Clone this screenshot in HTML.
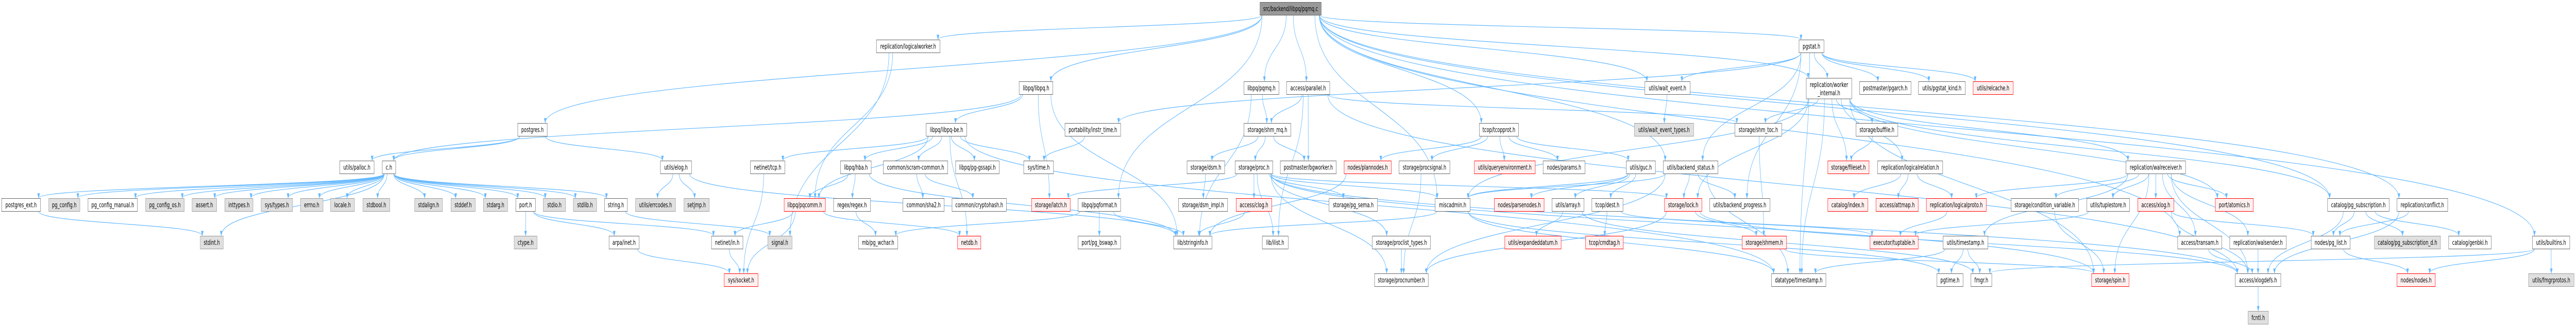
<!DOCTYPE html>
<html><head><meta charset="utf-8">
<meta name="viewport" content="width=7871">
<style>
html,body{margin:0;padding:0;background:#fff;width:100%;height:100%;overflow:hidden}
svg{display:block;position:absolute;left:0;top:0;width:100vw;height:100vh}
text{font-family:"DejaVu Sans","Liberation Sans",sans-serif;font-size:13px;fill:#000}
</style></head>
<body>
<svg id="g" viewBox="0 0 7871 637" preserveAspectRatio="none" xmlns="http://www.w3.org/2000/svg">
<defs><marker id="a" markerWidth="10" markerHeight="8" refX="9" refY="4" orient="auto" markerUnits="userSpaceOnUse"><path d="M0,0 L10,4 L0,8 z" fill="#63b8ff"/></marker></defs>
<g id="e"></g><g id="n"></g>
</svg>
<script>
var R={0:17,1:90,2:171,3:252,4:325,5:398,6:471,7:544,8:617};
var N=[
["src/backend/libpq/pqmq.c",3850,4037,0,"k"],
["replication/logicalworker.h",2678,2872,1,"w"],
["pgstat.h",5497,5573,1,"w"],
["libpq/libpq.h",3114,3217,2,"w"],
["libpq/pqmq.h",3801,3908,2,"w"],
["access/parallel.h",3931,4063,2,"w"],
["utils/wait_event.h",5026,5164,2,"w"],
["postmaster/pgarch.h",5682,5839,2,"w"],
["utils/pgstat_kind.h",5862,6005,2,"w"],
["utils/relcache.h",6029,6151,2,"r"],
["postgres.h",1582,1672,3,"w"],
["libpq/libpq-be.h",2830,2954,3,"w"],
["portability/instr_time.h",3254,3424,3,"w"],
["storage/shm_mq.h",3801,3944,3,"w"],
["tcop/tcopprot.h",4520,4640,3,"w"],
["utils/wait_event_types.h",4994,5175,3,"g"],
["storage/shm_toc.h",5301,5444,3,"w"],
["storage/buffile.h",5671,5799,3,"w"],
["utils/palloc.h",1038,1143,4,"w"],
["c.h",1168,1209,4,"w"],
["utils/elog.h",2018,2113,4,"w"],
["netinet/tcp.h",2293,2398,4,"w"],
["libpq/hba.h",2568,2662,4,"w"],
["common/scram-common.h",2699,2896,4,"w"],
["libpq/pg-gssapi.h",2920,3053,4,"w"],
["sys/time.h",3128,3219,4,"w"],
["storage/dsm.h",3627,3742,4,"w"],
["storage/proc.h",3774,3889,4,"w"],
["postmaster/bgworker.h",3912,4083,4,"w"],
["nodes/plannodes.h",4107,4251,4,"r"],
["storage/procsignal.h",4275,4430,4,"w"],
["utils/queryenvironment.h",4505,4691,4,"r"],
["nodes/params.h",4715,4843,4,"w"],
["utils/guc.h",4969,5058,4,"w"],
["utils/backend_status.h",5082,5249,4,"w"],
["storage/fileset.h",5585,5711,4,"r"],
["replication/logicalrelation.h",5737,5936,4,"w"],
["replication/walreceiver.h",6496,6678,4,"w"],
["postgres_ext.h",5,124,5,"w"],
["pg_config.h",149,244,5,"g"],
["pg_config_manual.h",269,420,5,"w"],
["pg_config_os.h",445,563,5,"g"],
["assert.h",587,662,5,"g"],
["inttypes.h",687,773,5,"g"],
["sys/types.h",798,894,5,"g"],
["errno.h",918,987,5,"g"],
["locale.h",1010,1083,5,"g"],
["stdbool.h",1109,1191,5,"g"],
["stdalign.h",1267,1352,5,"g"],
["stddef.h",1378,1452,5,"g"],
["stdarg.h",1477,1551,5,"g"],
["port.h",1576,1636,5,"w"],
["stdio.h",1660,1728,5,"g"],
["stdlib.h",1752,1823,5,"g"],
["string.h",1847,1917,5,"w"],
["utils/errcodes.h",1942,2064,5,"g"],
["setjmp.h",2090,2167,5,"g"],
["libpq/pqcomm.h",2396,2522,5,"r"],
["regex/regex.h",2547,2660,5,"w"],
["common/sha2.h",2759,2885,5,"w"],
["common/cryptohash.h",2909,3075,5,"w"],
["storage/latch.h",3152,3270,5,"r"],
["libpq/pqformat.h",3294,3424,5,"w"],
["storage/dsm_impl.h",3601,3751,5,"w"],
["access/clog.h",3777,3886,5,"r"],
["storage/pg_sema.h",4061,4209,5,"w"],
["miscadmin.h",4385,4492,5,"w"],
["nodes/parsenodes.h",4566,4718,5,"r"],
["utils/array.h",4742,4840,5,"w"],
["tcop/dest.h",4864,4959,5,"w"],
["storage/lock.h",5086,5200,5,"r"],
["utils/backend_progress.h",5224,5408,5,"w"],
["catalog/index.h",5585,5707,5,"r"],
["access/attmap.h",5732,5861,5,"r"],
["replication/logicalproto.h",5886,6069,5,"r"],
["storage/condition_variable.h",6145,6351,5,"w"],
["utils/tuplestore.h",6376,6507,5,"w"],
["access/xlog.h",6532,6642,5,"r"],
["port/atomics.h",6769,6885,5,"r"],
["catalog/pg_subscription.h",7112,7300,5,"w"],
["replication/conflict.h",7324,7479,5,"w"],
["stdint.h",612,682,6,"g"],
["ctype.h",1571,1641,6,"g"],
["arpa/inet.h",1861,1953,6,"w"],
["netinet/in.h",2174,2270,6,"w"],
["signal.h",2346,2420,6,"g"],
["mb/pg_wchar.h",2623,2743,6,"w"],
["netdb.h",2926,2997,6,"r"],
["port/pg_bswap.h",3294,3424,6,"w"],
["lib/stringinfo.h",3586,3703,6,"w"],
["lib/ilist.h",3857,3936,6,"w"],
["storage/proclist_types.h",4193,4371,6,"w"],
["utils/expandeddatum.h",4598,4770,6,"r"],
["tcop/cmdtag.h",4845,4960,6,"r"],
["storage/shmem.h",5323,5459,6,"r"],
["executor/tuptable.h",5714,5861,6,"r"],
["utils/timestamp.h",5937,6074,6,"w"],
["access/transam.h",6654,6789,6,"w"],
["replication/walsender.h",6813,6986,6,"w"],
["nodes/pg_list.h",7062,7181,6,"w"],
["catalog/pg_subscription_d.h",7255,7457,6,"g"],
["catalog/genbki.h",7482,7612,6,"w"],
["utils/builtins.h",7738,7852,6,"w"],
["sys/socket.h",2213,2316,7,"r"],
["storage/procnumber.h",4200,4364,7,"w"],
["datatype/timestamp.h",5413,5579,7,"w"],
["pgtime.h",5918,5998,7,"w"],
["fmgr.h",6022,6086,7,"w"],
["storage/spin.h",6391,6505,7,"r"],
["access/xlogdefs.h",6830,6969,7,"w"],
["nodes/nodes.h",7324,7441,7,"r"],
["utils/fmgrprotos.h",7726,7865,7,"g"],
["fcntl.h",6869,6931,8,"g"],
["replication/worker_internal.h",5519,5658,-1,"w"]
];
var M={};
N.forEach(function(n){var y1,y2;if(n[3]<0){y1=152;y2=192;}else{y1=R[n[3]]-12.5;y2=R[n[3]]+12.5;}M[n[0]]={x1:n[1],x2:n[2],y1:y1,y2:y2,cx:(n[1]+n[2])/2,t:n[4],l:n[0]};});
var E=`src/backend/libpq/pqmq.c>postgres.h,replication/logicalworker.h,libpq/libpq.h,libpq/pqformat.h,libpq/pqmq.h,access/parallel.h,tcop/tcopprot.h,miscadmin.h,pgstat.h,utils/wait_event.h,utils/backend_status.h,utils/builtins.h,replication/conflict.h,catalog/pg_subscription.h,access/transam.h,replication/worker_internal.h
postgres.h>c.h,utils/palloc.h,utils/elog.h
c.h>postgres_ext.h,pg_config.h,pg_config_manual.h,pg_config_os.h,assert.h,inttypes.h,sys/types.h,errno.h,locale.h,stdbool.h,stdalign.h,stddef.h,stdarg.h,port.h,stdio.h,stdlib.h,string.h,stdint.h
postgres_ext.h>stdint.h
port.h>ctype.h,arpa/inet.h,netinet/in.h
string.h>signal.h
arpa/inet.h>sys/socket.h
netinet/in.h>sys/socket.h
netinet/tcp.h>sys/socket.h
utils/elog.h>utils/errcodes.h,setjmp.h,lib/stringinfo.h
libpq/pqcomm.h>netinet/in.h,sys/socket.h,netdb.h
libpq/hba.h>libpq/pqcomm.h,regex/regex.h,lib/stringinfo.h
regex/regex.h>mb/pg_wchar.h
replication/logicalworker.h>signal.h,libpq/pqcomm.h
libpq/libpq.h>libpq/libpq-be.h,storage/latch.h,lib/stringinfo.h,c.h
libpq/libpq-be.h>libpq/hba.h,common/scram-common.h,libpq/pg-gssapi.h,sys/time.h,netinet/tcp.h,libpq/pqcomm.h,netdb.h,datatype/timestamp.h
common/scram-common.h>common/sha2.h,common/cryptohash.h
portability/instr_time.h>sys/time.h
libpq/pqformat.h>port/pg_bswap.h,lib/stringinfo.h,mb/pg_wchar.h
libpq/pqmq.h>storage/shm_mq.h,lib/stringinfo.h
storage/shm_mq.h>storage/dsm.h,storage/proc.h,postmaster/bgworker.h
storage/dsm.h>storage/dsm_impl.h
storage/proc.h>access/clog.h,lib/ilist.h,storage/latch.h,storage/pg_sema.h,storage/lock.h,storage/proclist_types.h,storage/procnumber.h,storage/spin.h,access/xlogdefs.h,miscadmin.h
access/clog.h>lib/stringinfo.h
access/parallel.h>postmaster/bgworker.h,storage/shm_mq.h,access/xlogdefs.h,storage/shm_toc.h,lib/ilist.h
tcop/tcopprot.h>nodes/plannodes.h,storage/procsignal.h,utils/queryenvironment.h,nodes/params.h,utils/guc.h
storage/procsignal.h>storage/procnumber.h
storage/proclist_types.h>storage/procnumber.h
utils/guc.h>nodes/parsenodes.h,utils/array.h,tcop/dest.h,miscadmin.h
utils/array.h>utils/expandeddatum.h,fmgr.h
tcop/dest.h>tcop/cmdtag.h,executor/tuptable.h
nodes/plannodes.h>lib/stringinfo.h
miscadmin.h>datatype/timestamp.h,pgtime.h,lib/stringinfo.h
utils/wait_event.h>utils/wait_event_types.h
utils/backend_status.h>storage/lock.h,miscadmin.h,datatype/timestamp.h,utils/backend_progress.h,storage/procnumber.h
storage/lock.h>storage/procnumber.h,storage/shmem.h,access/xlogdefs.h
pgstat.h>replication/worker_internal.h,postmaster/pgarch.h,utils/pgstat_kind.h,utils/relcache.h,datatype/timestamp.h,utils/backend_progress.h,portability/instr_time.h,utils/backend_status.h,utils/wait_event.h
replication/worker_internal.h>storage/shm_toc.h,storage/buffile.h,storage/fileset.h,replication/logicalrelation.h,replication/walreceiver.h,datatype/timestamp.h,catalog/pg_subscription.h,miscadmin.h,storage/lock.h,port/atomics.h,storage/spin.h
storage/shm_toc.h>storage/shmem.h
storage/shmem.h>storage/spin.h
storage/buffile.h>storage/fileset.h
replication/logicalrelation.h>catalog/index.h,access/attmap.h,replication/logicalproto.h
replication/logicalproto.h>executor/tuptable.h
replication/walreceiver.h>replication/logicalproto.h,storage/condition_variable.h,utils/tuplestore.h,access/xlog.h,port/atomics.h,access/transam.h,replication/walsender.h,access/xlogdefs.h,storage/spin.h,utils/timestamp.h
storage/condition_variable.h>storage/spin.h
utils/tuplestore.h>executor/tuptable.h
utils/timestamp.h>pgtime.h,fmgr.h,datatype/timestamp.h
access/xlog.h>access/xlogdefs.h,nodes/pg_list.h
access/transam.h>access/xlogdefs.h
replication/walsender.h>access/xlogdefs.h
access/xlogdefs.h>fcntl.h
catalog/pg_subscription.h>nodes/pg_list.h,catalog/pg_subscription_d.h,catalog/genbki.h,access/xlogdefs.h
replication/conflict.h>nodes/pg_list.h,access/xlogdefs.h
nodes/pg_list.h>nodes/nodes.h
utils/builtins.h>utils/fmgrprotos.h,nodes/nodes.h,fmgr.h`;
var ns="http://www.w3.org/2000/svg",ge=document.getElementById("e"),gn=document.getElementById("n");
function el(t,a,p){var e=document.createElementNS(ns,t);for(var k in a)e.setAttribute(k,a[k]);p.appendChild(e);return e;}
E.split("\n").forEach(function(line){var p=line.split(">"),s=M[p[0]];if(!s)return;
 p[1].split(",").forEach(function(tn){var t=M[tn];if(!t)return;var d;
  if(t.y1>s.y2){var sx=Math.max(s.x1+6,Math.min(s.x2-6,s.cx+(t.cx-s.cx)*0.15)),tx=Math.max(t.x1+6,Math.min(t.x2-6,t.cx+(s.cx-t.cx)*0.1));
   var dy=(t.y1-s.y2)*0.5;d="M"+sx+","+s.y2+" C"+sx+","+(s.y2+dy)+" "+tx+","+(t.y1-dy)+" "+tx+","+(t.y1-1);}
  else if(t.y2<s.y1){d="M"+s.cx+","+s.y1+" C"+s.cx+","+(s.y1-30)+" "+t.cx+","+(t.y2+30)+" "+t.cx+","+(t.y2+1);}
  else{if(t.cx<s.cx)d="M"+s.x1+","+(s.y1+s.y2)/2+" L"+(t.x2+1)+","+(t.y1+t.y2)/2;else d="M"+s.x2+","+(s.y1+s.y2)/2+" L"+(t.x1-1)+","+(t.y1+t.y2)/2;}
  el("path",{d:d,fill:"none",stroke:"#63b8ff","stroke-width":"1.2","marker-end":"url(#a)"},ge);});});
var st={w:["#fff","#666"],g:["#e0e0e0","#999"],r:["#fff0f0","#f00"],k:["#999","#666"]};
for(var k in M){var m=M[k],c=st[m.t];
 el("rect",{x:m.x1,y:m.y1,width:m.x2-m.x1,height:m.y2-m.y1,fill:c[0],stroke:c[1],"stroke-width":"1"},gn);
 if(k=="replication/worker_internal.h"){var t1=el("text",{x:m.cx,y:m.y1+17,"text-anchor":"middle"},gn);t1.textContent="replication/worker";var t2=el("text",{x:m.cx,y:m.y1+33,"text-anchor":"middle"},gn);t2.textContent="_internal.h";}
 else{var t=el("text",{x:m.cx,y:(m.y1+m.y2)/2+4.5,"text-anchor":"middle"},gn);t.textContent=k;
  var bw=m.x2-m.x1-10;try{var w=t.getComputedTextLength();if(w>bw){t.setAttribute("textLength",bw);t.setAttribute("lengthAdjust","spacingAndGlyphs");}}catch(e){}}
}
</script>
</body></html>
